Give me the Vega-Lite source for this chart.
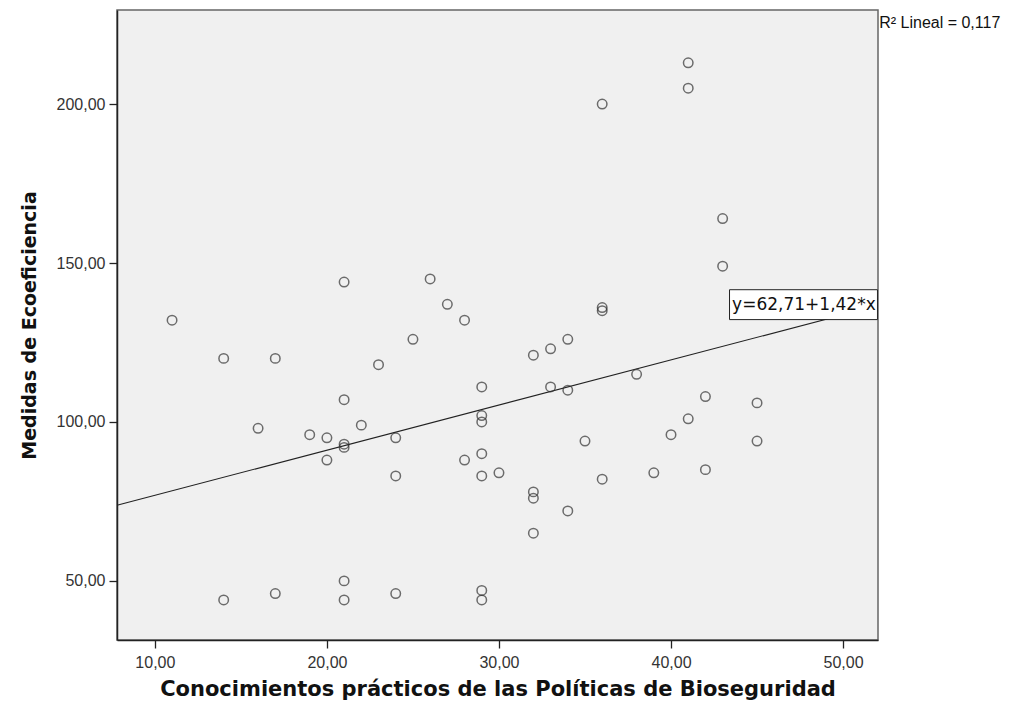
{
  "$schema": "https://vega.github.io/schema/vega-lite/v6.json",
  "autosize": {"type": "none"},
  "padding": {"left": 117, "top": 10, "right": 142, "bottom": 76},
  "width": 761,
  "height": 630,
  "background": "white",
  "config": {
    "view": {"fill": "#f0f0f0", "stroke": "#666666", "strokeWidth": 1.5},
    "font": "Liberation Sans"
  },
  "datasets": {
    "pts": [
      {"x": 11, "y": 132}, {"x": 14, "y": 120}, {"x": 14, "y": 44}, {"x": 17, "y": 120}, {"x": 17, "y": 46},
      {"x": 16, "y": 98}, {"x": 19, "y": 96}, {"x": 20, "y": 95}, {"x": 20, "y": 88},
      {"x": 21, "y": 144}, {"x": 21, "y": 107}, {"x": 21, "y": 93}, {"x": 21, "y": 92}, {"x": 21, "y": 50}, {"x": 21, "y": 44},
      {"x": 22, "y": 99}, {"x": 23, "y": 118}, {"x": 24, "y": 95}, {"x": 24, "y": 83}, {"x": 24, "y": 46},
      {"x": 25, "y": 126}, {"x": 26, "y": 145}, {"x": 27, "y": 137}, {"x": 28, "y": 132}, {"x": 28, "y": 88},
      {"x": 29, "y": 111}, {"x": 29, "y": 102}, {"x": 29, "y": 100}, {"x": 29, "y": 90}, {"x": 29, "y": 83}, {"x": 29, "y": 47}, {"x": 29, "y": 44},
      {"x": 30, "y": 84}, {"x": 32, "y": 121}, {"x": 32, "y": 78}, {"x": 32, "y": 76}, {"x": 32, "y": 65},
      {"x": 33, "y": 123}, {"x": 33, "y": 111}, {"x": 34, "y": 126}, {"x": 34, "y": 110}, {"x": 34, "y": 72},
      {"x": 35, "y": 94}, {"x": 36, "y": 200}, {"x": 36, "y": 136}, {"x": 36, "y": 135}, {"x": 36, "y": 82},
      {"x": 38, "y": 115}, {"x": 39, "y": 84}, {"x": 40, "y": 96}, {"x": 41, "y": 213}, {"x": 41, "y": 205}, {"x": 41, "y": 101},
      {"x": 42, "y": 108}, {"x": 42, "y": 85}, {"x": 43, "y": 164}, {"x": 43, "y": 149}, {"x": 45, "y": 106}, {"x": 45, "y": 94}
    ],
    "fit": [{"x": 7.8, "y": 73.79}, {"x": 52.0, "y": 136.55}],
    "box": [{"x": 43.4, "x2": 52.0, "y": 132.2, "y2": 141.6, "tx": 43.55, "ty": 136.9, "label": "y=62,71+1,42*x"}],
    "r2": [{"x": 52.1, "y": 225.6, "label": "R² Lineal = 0,117"}]
  },
  "layer": [
    {
      "data": {"name": "fit"},
      "mark": {"type": "line", "color": "#222222", "strokeWidth": 1.1},
      "encoding": {
        "x": {"field": "x", "type": "quantitative", "scale": {"domain": [7.8, 52.03], "nice": false, "zero": false},
          "axis": {"values": [10, 20, 30, 40, 50], "labelExpr": "replace(format(datum.value, '.2f'), '.', ',')",
            "title": "Conocimientos prácticos de las Políticas de Bioseguridad", "grid": false,
            "domainColor": "#222222", "domainWidth": 1.5, "tickColor": "#222222", "tickSize": 8, "tickWidth": 1.3,
            "labelFontSize": 16, "labelColor": "#333333", "labelPadding": 6, "labelFont": "Liberation Sans",
            "titleFont": "DejaVu Sans", "titleFontSize": 21, "titleFontWeight": "bold", "titleColor": "#111111", "titlePadding": 8}},
        "y": {"field": "y", "type": "quantitative", "scale": {"domain": [31.4, 229.6], "nice": false, "zero": false},
          "axis": {"values": [50, 100, 150, 200], "labelExpr": "replace(format(datum.value, '.2f'), '.', ',')",
            "title": "Medidas de Ecoeficiencia", "grid": false,
            "domainColor": "#222222", "domainWidth": 1.5, "tickColor": "#222222", "tickSize": 8, "tickWidth": 1.3,
            "labelFontSize": 16, "labelColor": "#333333", "labelPadding": 4, "labelFont": "Liberation Sans",
            "titleFont": "DejaVu Sans", "titleFontSize": 19, "titleFontWeight": "bold", "titleColor": "#111111", "titlePadding": 17}}
      }
    },
    {
      "data": {"name": "pts"},
      "mark": {"type": "point", "shape": "circle", "filled": false, "stroke": "#333333", "strokeWidth": 1.5, "size": 90},
      "encoding": {
        "x": {"field": "x", "type": "quantitative"},
        "y": {"field": "y", "type": "quantitative"}
      }
    },
    {
      "data": {"name": "box"},
      "mark": {"type": "rect", "fill": "white", "stroke": "#222222", "strokeWidth": 1},
      "encoding": {
        "x": {"field": "x", "type": "quantitative"},
        "x2": {"field": "x2"},
        "y": {"field": "y", "type": "quantitative"},
        "y2": {"field": "y2"}
      }
    },
    {
      "data": {"name": "box"},
      "mark": {"type": "text", "align": "left", "baseline": "middle", "fontSize": 17, "font": "DejaVu Sans", "color": "#111111"},
      "encoding": {
        "x": {"field": "tx", "type": "quantitative"},
        "y": {"field": "ty", "type": "quantitative"},
        "text": {"field": "label"}
      }
    },
    {
      "data": {"name": "r2"},
      "mark": {"type": "text", "align": "left", "baseline": "middle", "fontSize": 16, "color": "#111111"},
      "encoding": {
        "x": {"field": "x", "type": "quantitative"},
        "y": {"field": "y", "type": "quantitative"},
        "text": {"field": "label"}
      }
    }
  ]
}
